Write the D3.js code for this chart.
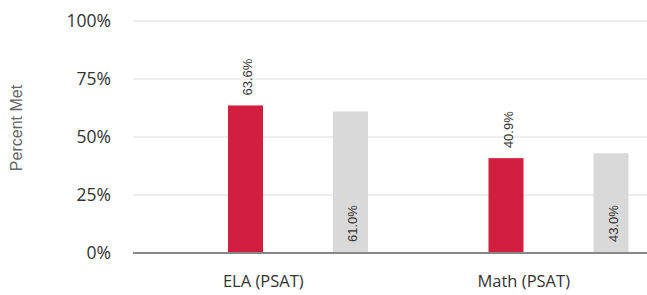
<!DOCTYPE html>
<html>
<head>
<meta charset="utf-8">
<script src="https://cdn.jsdelivr.net/npm/d3@7"></script>
<style>
  body { margin: 0; background: #fff; }
  text { font-family: "Open Sans", "Noto Sans", sans-serif; }
</style>
</head>
<body>
<script>
var categories = ['ELA (PSAT)', 'Math (PSAT)'];
var series = ['School', 'State'];
var schoolValues = [63.6, 40.9];
var stateValues = [61.0, 43.0];
var yTicks = [0, 25, 50, 75, 100];
var colors = ['#d31f3f', '#d9d9d9'];

var width = 647, height = 295;
var margin = {top: 21, right: -7, bottom: 42, left: 133};

var svg = d3.select('body').append('svg').attr('width', width).attr('height', height);

var x0 = d3.scaleBand().domain(categories).range([margin.left, width - margin.right]);
var x1 = d3.scalePoint().domain(series).range([112.5, 217.5]);
var barW = 35;
var y = d3.scaleLinear().domain([0, 100]).range([height - margin.bottom, margin.top]);

// gridlines
svg.append('g').selectAll('line').data(yTicks.slice(1)).enter().append('line')
  .attr('x1', margin.left).attr('x2', width)
  .attr('y1', function(d){ return y(d); }).attr('y2', function(d){ return y(d); })
  .style('stroke', '#dcdcdc').style('stroke-width', 1);

// y axis labels
var yAxis = svg.append('g').attr('transform', 'translate(' + (margin.left - 22) + ',0)')
  .call(d3.axisLeft(y).tickValues(yTicks).tickSize(0).tickFormat(function(d){ return d + '%'; }));
yAxis.select('.domain').remove();
yAxis.selectAll('text').style('font-size', '17.5px').style('fill', '#333').attr('x', 0);

// axis title
svg.append('text').attr('transform', 'translate(22,128) rotate(-90)')
  .attr('text-anchor', 'middle').style('font-family', '"Liberation Sans", Arial, sans-serif')
  .style('font-size', '16px').style('fill', '#666')
  .text('Percent Met');

var rows = categories.map(function(c, i){
  return [{cat: c, s: series[0], v: schoolValues[i]}, {cat: c, s: series[1], v: stateValues[i]}];
});

var groups = svg.selectAll('.grp').data(rows).enter().append('g').attr('class', 'grp')
  .attr('transform', function(d){ return 'translate(' + x0(d[0].cat) + ',0)'; });

groups.selectAll('rect').data(function(d){ return d; }).enter().append('rect')
  .attr('x', function(d){ return x1(d.s) - barW / 2; })
  .attr('width', barW)
  .attr('y', function(d){ return y(d.v); })
  .attr('height', function(d){ return y(0) - y(d.v); })
  .style('fill', function(d, i){ return colors[i]; });

// value labels: school above bar, state inside bar at bottom
groups.selectAll('.lbl').data(function(d){ return d; }).enter().append('text').attr('class', 'lbl')
  .attr('transform', function(d, i){
    var px = x1(d.s) + 6.5;
    var py = (i == 0) ? y(d.v) - 10 : y(0) - 11;
    return 'translate(' + px + ',' + py + ') rotate(-90)';
  })
  .attr('text-anchor', 'start')
  .style('font-family', '"Liberation Sans", Arial, sans-serif')
  .style('font-size', '13px').style('fill', '#333')
  .text(function(d){ return d.v.toFixed(1) + '%'; });

// baseline
svg.append('line').attr('x1', margin.left).attr('x2', width)
  .attr('y1', y(0)).attr('y2', y(0))
  .style('stroke', '#888').style('stroke-width', 2);

// category labels
svg.selectAll('.cat').data(categories).enter().append('text').attr('class', 'cat')
  .attr('x', function(d){ return x0(d) + x0.bandwidth() / 2; })
  .attr('y', y(0) + 34)
  .attr('text-anchor', 'middle').style('font-size', '16.5px').style('fill', '#333')
  .text(function(d){ return d; });
</script>
</body>
</html>
